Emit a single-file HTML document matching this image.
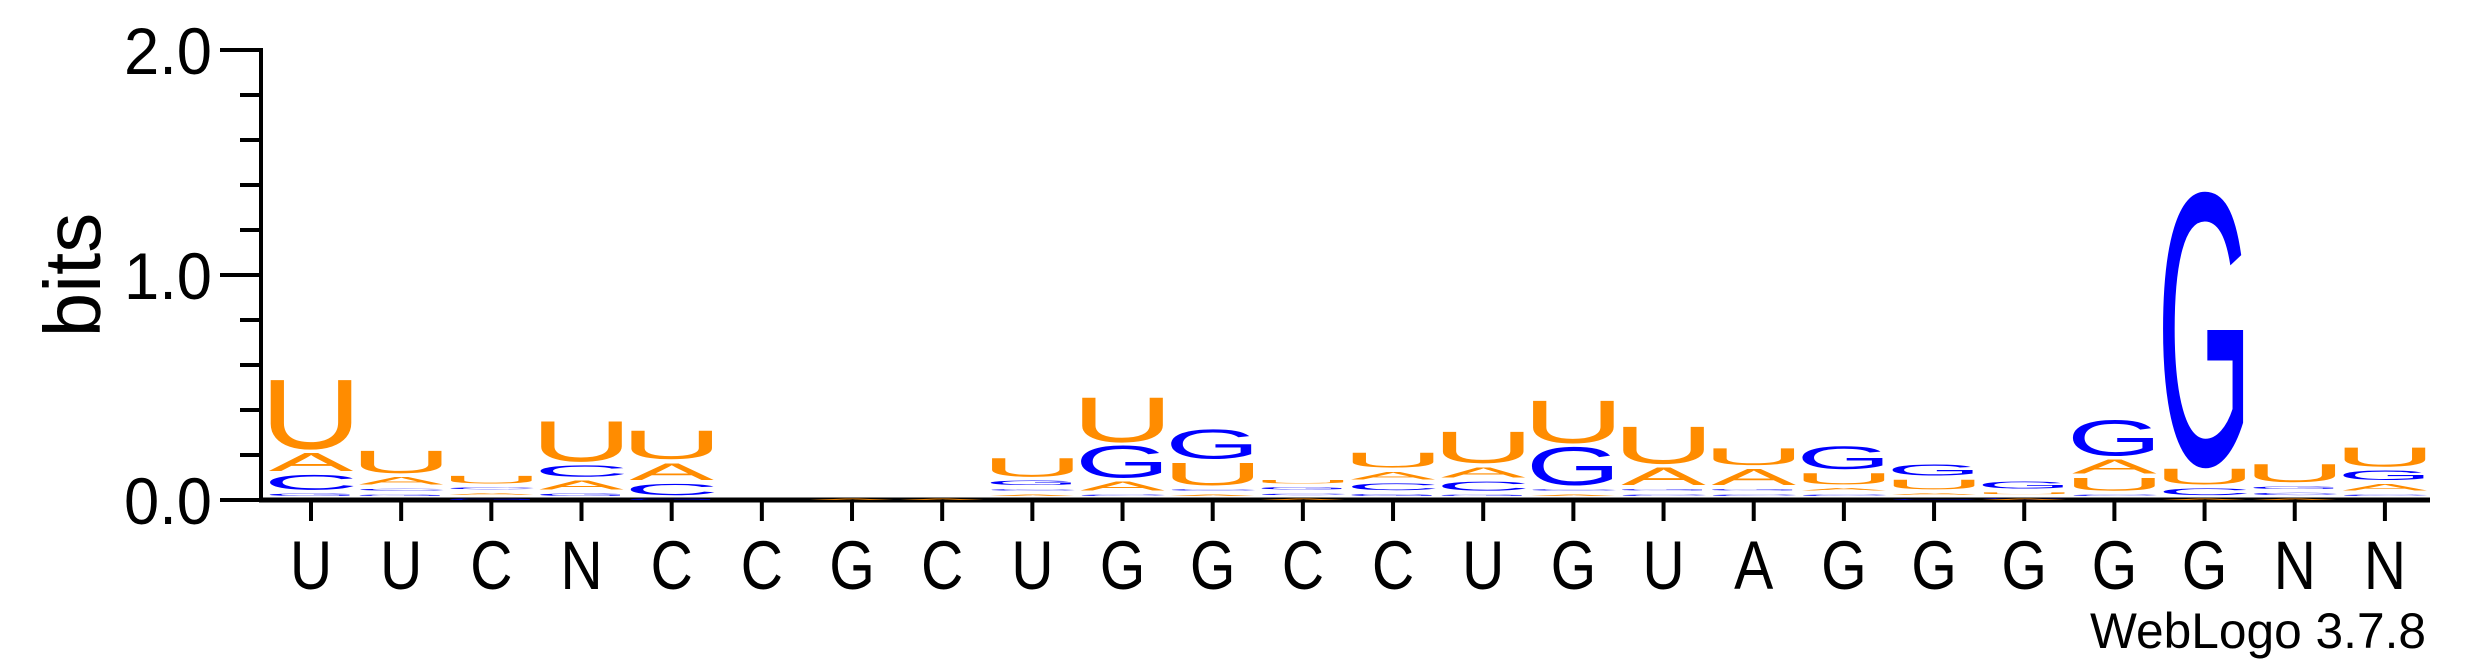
<!DOCTYPE html>
<html><head><meta charset="utf-8"><style>
html,body{margin:0;padding:0;background:#fff;}
svg{display:block;font-family:"Liberation Sans",Arial,sans-serif;}
</style></head><body>
<svg id="chart" width="2475" height="667" viewBox="0 0 2475 667" xmlns="http://www.w3.org/2000/svg">
<g id="axes"></g>
<g id="stacks"></g>
<text x="0" y="0" font-size="80" text-anchor="middle" transform="translate(100,275) rotate(-90)">bits</text>
<text x="2426" y="648" font-size="50" text-anchor="end" textLength="336" lengthAdjust="spacingAndGlyphs">WebLogo 3.7.8</text>
</svg>
<script>
const positions = ["U","U","C","N","C","C","G","C","U","G","G","C","C","U","G","U","A","G","G","G","G","G","N","N"];
const bitsA = [0.08,0.034,0.008,0.04,0.075,0,0.004,0.004,0.006,0.04,0.006,0.004,0.035,0.047,0.006,0.078,0.072,0.01,0.008,0.004,0.062,0.004,0.004,0.028];
const bitsC = [0.066,0.008,0.008,0.05,0.05,0,0,0,0.006,0.006,0.006,0.006,0.03,0.04,0.006,0.006,0.006,0.006,0.004,0.004,0.006,0.03,0.01,0.006];
const bitsG = [0.01,0.006,0.004,0.01,0.004,0,0,0,0.02,0.14,0.13,0.01,0.008,0.006,0.17,0.006,0.006,0.1,0.05,0.03,0.16,1.215,0.012,0.043];
const bitsU = [0.31,0.10,0.034,0.18,0.127,0,0,0,0.083,0.2,0.1,0.015,0.066,0.14,0.19,0.166,0.075,0.05,0.043,0.008,0.057,0.07,0.08,0.085];
const yTicks = ["0.0","1.0","2.0"];

const NS="http://www.w3.org/2000/svg";
const X0=311, DX=90.17, Y0=500, PXB=225, GAP=0.018;
const xPos=i=>X0+i*DX;
const yPos=b=>Y0-b*PXB;
const colors={A:"#FF8C00",U:"#FF8C00",C:"#0000FF",G:"#0000FF"};
const inkRatio={A:0.97,C:0.86,G:0.86,U:0.8};
function mk(tag,attrs){const e=document.createElementNS(NS,tag);for(const k in attrs)e.setAttribute(k,attrs[k]);return e;}
const axes=document.getElementById('axes');
const ya=mk('line',{x1:261,y1:yPos(2)-2,x2:261,y2:Y0+2,stroke:'#000','stroke-width':4});


axes.appendChild(ya);
const xa=mk('line',{x1:259,y1:Y0,x2:2430,y2:Y0,stroke:'#000','stroke-width':5});


axes.appendChild(xa);
for(let k=0;k<=10;k++){
  const b=k*0.2, major=(k%5===0);
  const t=mk('line',{x1:major?220:240,y1:yPos(b),x2:261,y2:yPos(b),stroke:'#000','stroke-width':4});
  
  
  axes.appendChild(t);
}
yTicks.forEach((lab,i)=>{
  const t=mk('text',{x:212,y:yPos(i)+24,'font-size':66,'text-anchor':'end',textLength:88,lengthAdjust:'spacingAndGlyphs'});
  t.textContent=lab;
  
  
  axes.appendChild(t);
});
positions.forEach((p,i)=>{
  const t=mk('line',{x1:xPos(i),y1:Y0,x2:xPos(i),y2:521,stroke:'#000','stroke-width':4});
  
  
  axes.appendChild(t);
  const l=mk('text',{x:0,y:0,'font-size':69,'text-anchor':'middle',transform:`translate(${xPos(i)},589) scale(0.85,1)`});
  l.textContent=p;
  
  
  axes.appendChild(l);
});
const stacks=document.getElementById('stacks');
positions.forEach((p,i)=>{
  const g=mk('g',{});
  
  
  stacks.appendChild(g);
  const items=[['A',bitsA[i]],['C',bitsC[i]],['G',bitsG[i]],['U',bitsU[i]]].sort((a,b)=>a[1]-b[1]);
  let base=0;
  items.forEach(([ch,v])=>{
    if(v<=0)return;
    if(v>0.005) base+=GAP;
    const h=v*PXB;
    const tl=82/inkRatio[ch];
    const yb=yPos(base);
    const s=h/70;
    const t=mk('text',{x:0,y:0,'font-size':100,fill:colors[ch],textLength:tl,lengthAdjust:'spacingAndGlyphs',
      transform:`translate(${xPos(i)-tl/2},${yb}) scale(1,${s})`});
    t.textContent=ch;
    
    
    g.appendChild(t);
    base+=v;
  });
});
</script>
</body></html>
